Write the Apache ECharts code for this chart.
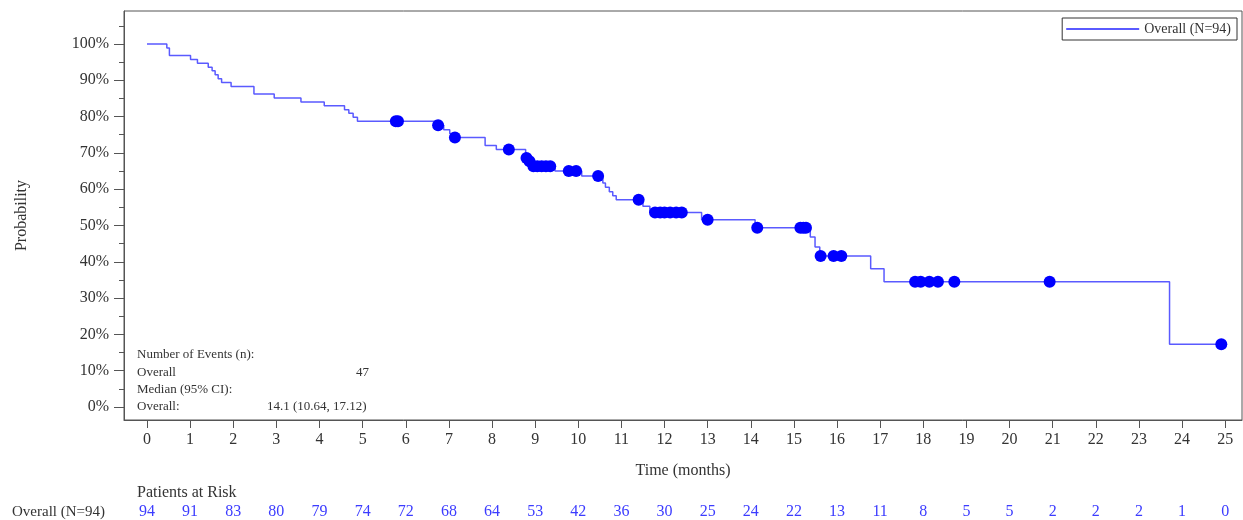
<!DOCTYPE html>
<html>
<head>
<meta charset="utf-8">
<script src="https://cdn.jsdelivr.net/npm/echarts@6/dist/echarts.min.js"></script>
<style>
html,body{margin:0;padding:0;background:#fff;}
#chart{width:1243px;height:520px;}
</style>
</head>
<body>
<div id="chart"></div>
<script>
// Kaplan-Meier step points (time in months, survival probability)
const kmTime = [0,0.46,0.52,1.01,1.17,1.42,1.51,1.58,1.65,1.73,1.95,2.48,2.95,3.57,4.11,4.58,4.68,4.78,4.88,6.72,6.88,7.02,7.1,7.84,8.1,8.78,8.84,8.9,9.46,10.08,10.57,10.63,10.72,10.8,10.88,11.5,11.66,12.86,14.1,15.38,15.49,15.6,16.78,17.09,23.71,24.91];
const kmSurv = [1,0.989,0.968,0.957,0.947,0.936,0.926,0.915,0.904,0.894,0.883,0.862,0.851,0.840,0.830,0.819,0.809,0.798,0.787,0.776,0.764,0.753,0.742,0.72,0.709,0.686,0.677,0.663,0.65,0.636,0.617,0.605,0.593,0.582,0.571,0.553,0.536,0.516,0.494,0.468,0.441,0.416,0.381,0.345,0.173,0.173];
// Censoring times
const censorTime = [5.77,5.82,6.75,7.14,8.39,8.80,8.87,8.96,9.05,9.15,9.25,9.35,9.78,9.95,10.46,11.4,11.78,11.9,12.0,12.13,12.27,12.4,13.0,14.15,15.15,15.22,15.28,15.62,15.92,16.1,17.81,17.94,18.14,18.34,18.72,20.93,24.91];
// Axis ticks
const xTicks = [0,1,2,3,4,5,6,7,8,9,10,11,12,13,14,15,16,17,18,19,20,21,22,23,24,25];
const yTicks = [0,0.1,0.2,0.3,0.4,0.5,0.6,0.7,0.8,0.9,1.0];
const yMinorTicks = [0.05,0.15,0.25,0.35,0.45,0.55,0.65,0.75,0.85,0.95,1.05];
// Patients at risk at each month
const atRisk = [94,91,83,80,79,74,72,68,64,53,42,36,30,25,24,22,13,11,8,5,5,2,2,2,1,0];

const seriesName = 'Overall (N=94)';
const FONT = '"Liberation Serif", "DejaVu Serif", serif';

function survAt(t){
  let s = kmSurv[0];
  for (let i = 0; i < kmTime.length; i++) { if (kmTime[i] <= t + 1e-9) s = kmSurv[i]; }
  return s;
}

const lineData = kmTime.map((t,i)=>[t,kmSurv[i]]);
const censorData = censorTime.map(t=>[t, survAt(t)]);

const XMIN = -0.533, XMAX = 25.39, YMIN = -0.0357, YMAX = 1.0907;
const axisGrey = '#555';
const textGrey = '#333';
const lineBlue = '#5a5aff';

const chart = echarts.init(document.getElementById('chart'));
chart.setOption({
  animation: false,
  backgroundColor: '#fff',
  grid: {left:124, top:11, right:1, bottom:99, show:true, borderColor:axisGrey, borderWidth:1},
  legend: {
    data: [{name: seriesName, icon: 'rect', itemStyle: {color: lineBlue}}],
    right: 6, top: 18,
    borderColor: '#333', borderWidth: 1,
    padding: [4, 6, 4, 4],
    itemWidth: 73, itemHeight: 2,
    textStyle: {fontFamily: FONT, fontSize: 14, color: textGrey}
  },
  xAxis: [
    {
      type:'value', min:XMIN, max:XMAX,
      name:'Time (months)', nameLocation:'middle', nameGap:43,
      nameTextStyle:{fontFamily:FONT, fontSize:16, color:textGrey},
      axisLine:{show:true, onZero:false, lineStyle:{color:axisGrey}},
      axisTick:{show:true, length:8, lineStyle:{color:axisGrey}, customValues:xTicks},
      axisLabel:{customValues:xTicks, fontFamily:FONT, fontSize:16, color:textGrey, margin:12},
      splitLine:{show:false}
    },
    {
      type:'value', min:XMIN, max:XMAX, position:'bottom', offset:84,
      axisLine:{show:false, onZero:false}, axisTick:{show:false},
      axisLabel:{customValues:xTicks, fontFamily:FONT, fontSize:16, color:'#3c3cff', margin:0,
        formatter:(v)=>{const i=Math.round(v); return atRisk[i]!==undefined?String(atRisk[i]):'';}},
      splitLine:{show:false}
    }
  ],
  yAxis: [
    {
      type:'value', min:YMIN, max:YMAX,
      name:'Probability', nameLocation:'middle', nameGap:94,
      nameTextStyle:{fontFamily:FONT, fontSize:16, color:textGrey},
      axisLine:{show:true, onZero:false, lineStyle:{color:axisGrey}},
      axisTick:{show:true, length:10, lineStyle:{color:axisGrey}, customValues:yTicks},
      axisLabel:{customValues:yTicks, fontFamily:FONT, fontSize:16, color:textGrey, margin:15,
        formatter:(v)=>Math.round(v*100)+'%'},
      splitLine:{show:false}
    },
    {
      type:'value', min:YMIN, max:YMAX, position:'left', offset:0,
      axisLine:{show:false, onZero:false},
      axisTick:{show:true, length:5, lineStyle:{color:axisGrey}, customValues:yMinorTicks},
      axisLabel:{show:false},
      splitLine:{show:false}
    }
  ],
  series: [
    {
      name: seriesName, type:'line', step:'end', data: lineData, z: 2,
      symbol:'none', lineStyle:{color:lineBlue, width:1.5}, itemStyle:{color:lineBlue},
      xAxisIndex:0, yAxisIndex:0
    },
    {
      name:'Censored', type:'scatter', data: censorData, z: 5,
      symbol:'circle', symbolSize:12, itemStyle:{color:'#0000ff', opacity:1},
      xAxisIndex:0, yAxisIndex:0
    }
  ],
  graphic: [
    {type:'text', left:137, top:348, style:{text:'Number of Events (n):', font:'13px '+FONT, fill:textGrey}},
    {type:'text', left:137, top:366, style:{text:'Overall', font:'13px '+FONT, fill:textGrey}},
    {type:'text', left:356, top:366, style:{text:'47', font:'13px '+FONT, fill:textGrey}},
    {type:'text', left:137, top:383, style:{text:'Median (95% CI):', font:'13px '+FONT, fill:textGrey}},
    {type:'text', left:137, top:400, style:{text:'Overall:', font:'13px '+FONT, fill:textGrey}},
    {type:'text', left:267, top:400, style:{text:'14.1 (10.64, 17.12)', font:'13px '+FONT, fill:textGrey}},
    {type:'text', left:137, top:485, style:{text:'Patients at Risk', font:'16px '+FONT, fill:textGrey}},
    {type:'text', left:12, top:505, style:{text:'Overall (N=94)', font:'15px '+FONT, fill:textGrey}}
  ]
});
</script>
</body>
</html>
